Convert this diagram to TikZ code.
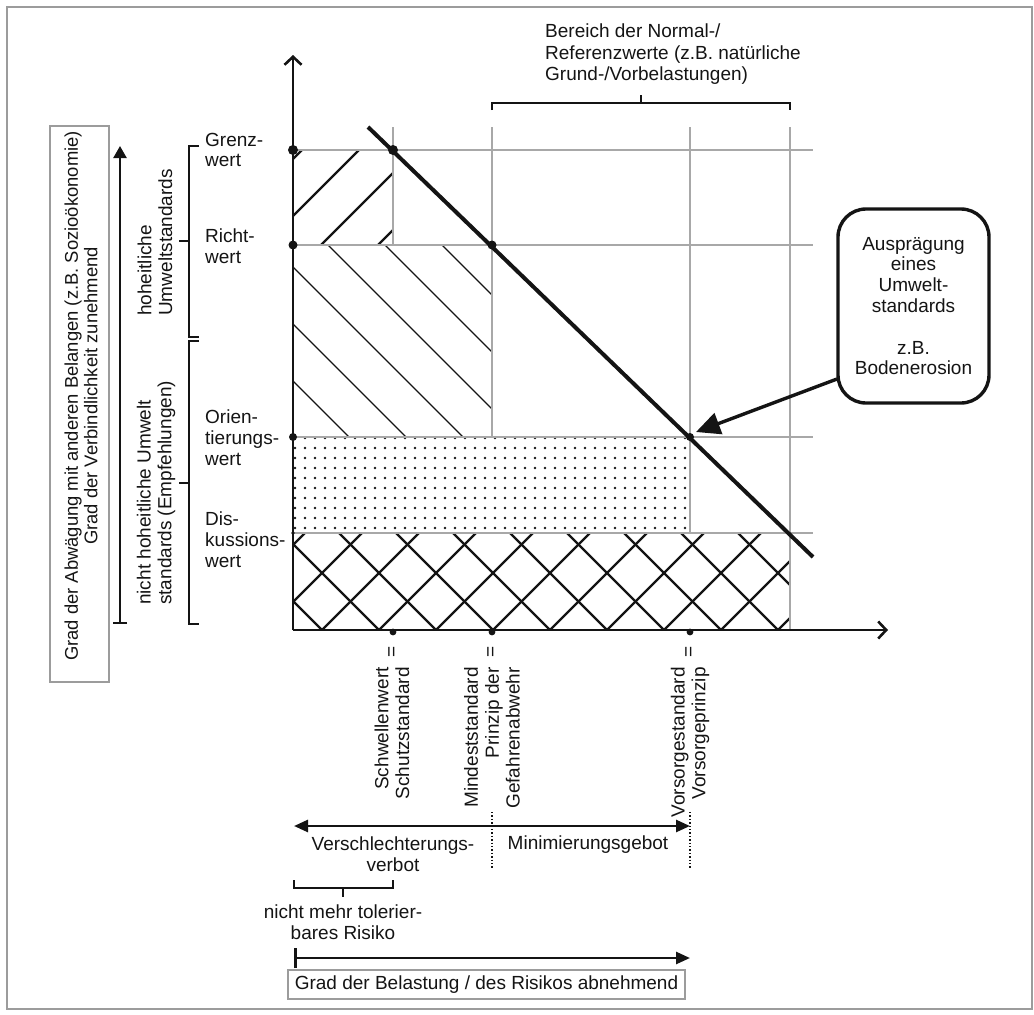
\documentclass[tikz,border=0pt]{standalone}
\usepackage{fontspec}
\setmainfont{Liberation Sans}
\usetikzlibrary{arrows.meta}
\definecolor{gridgray}{HTML}{A8A8A8}
\definecolor{framegray}{HTML}{9C9C9C}
\definecolor{ink}{HTML}{141414}

\begin{document}
\begin{tikzpicture}[x=1pt,y=-1pt,
  lbl/.style={font=\fontsize{19}{20.8}\selectfont, inner sep=0pt, text=ink},
  gridline/.style={draw=gridgray, line width=1.1pt},
  axisline/.style={draw=ink, line width=2.6pt},
  bracketline/.style={draw=ink, line width=2.4pt},
  hatchthick/.style={draw=ink, line width=2.4pt},
  hatchthin/.style={draw=ink, line width=1.1pt},
  crosshatch/.style={draw=ink, line width=2.2pt},
  graybox/.style={draw=framegray, line width=1.3pt},
  dotmark/.style={fill=ink},
]
\useasboundingbox (0,0) rectangle (1034,1015);

% outer frame
\draw[framegray, line width=1.5pt] (7,7) rectangle (1032,1009);

% key points of the diagram
\coordinate (O) at (293,630);
\coordinate (ytop) at (293,55);
\coordinate (xend) at (888,630);
\coordinate (G0) at (293,150);
\coordinate (G1) at (393,150);
\coordinate (R0) at (293,245);
\coordinate (R1) at (492,245);
\coordinate (Or0) at (293,437);
\coordinate (Or1) at (690,437);
\coordinate (D0) at (293,533);
\coordinate (lineA) at (368,127);
\coordinate (lineB) at (813,557);

% ---------- hatched areas ----------
% Grenzwert band: thick rising hatch
\begin{scope}
  \clip (293,150) rectangle (393,245);
  \foreach \c in {452,509,566,623,680}
    \draw[hatchthick] ({\c-120},120) -- ({\c-270},270);
\end{scope}
% Richtwert band: thin falling hatch
\begin{scope}
  \clip (293,245) rectangle (492,437);
  \foreach \k in {-4,...,4}
    \draw[hatchthin] ({26+57*\k+220},220) -- ({26+57*\k+460},460);
\end{scope}
% Orientierungswert band: dot raster
\foreach \i in {0,...,39}{
  \foreach \j in {0,...,9}{
    \fill[dotmark] ({295+10*\i},{438+10*\j}) circle[radius=1.45pt];
  }
}
% Diskussionswert band: cross hatch
\begin{scope}
  \clip (293,533) rectangle (790,630);
  \foreach \k in {-3,...,9}
    \draw[crosshatch] ({952+57*\k-520},520) -- ({952+57*\k-640},640);
  \foreach \m in {-1,...,10}
    \draw[crosshatch] ({-308+57*\m+520},520) -- ({-308+57*\m+640},640);
\end{scope}

% ---------- grid lines ----------
\draw[gridline] (G0) -- (813,150);
\draw[gridline] (R0) -- (813,245);
\draw[gridline] (Or0) -- (813,437);
\draw[gridline] (D0) -- (813,533);
\draw[gridline] (393,127) -- (393,245);
\draw[gridline] (492,127) -- (492,437);
\draw[gridline] (690,127) -- (690,533);
\draw[gridline] (790,127) -- (790,630);

% ---------- axes ----------
\draw[axisline, -{Straight Barb[length=8pt,width=17pt]}] (O) -- (ytop);
\draw[axisline, -{Straight Barb[length=8pt,width=17pt]}] (O) -- (xend);

% standard line
\draw[draw=ink, line width=4pt] (lineA) -- (lineB);

% marker dots
\fill[dotmark] (G0) circle[radius=5pt];
\fill[dotmark] (G1) circle[radius=5pt];
\fill[dotmark] (R0) circle[radius=4.5pt];
\fill[dotmark] (R1) circle[radius=4.5pt];
\fill[dotmark] (Or0) circle[radius=4pt];
\fill[dotmark] (Or1) circle[radius=4pt];
\fill[dotmark] (D0) circle[radius=1.8pt];
\fill[dotmark] (393,632) circle[radius=3.4pt];
\fill[dotmark] (492,632) circle[radius=3.4pt];
\fill[dotmark] (690,632) circle[radius=3.4pt];

% ---------- value labels on the y axis ----------
\node[lbl, anchor=west, align=left] (grenz) at (205,150) {Grenz-\\wert};
\node[lbl, anchor=west, align=left] (richt) at (205,246) {Richt-\\wert};
\node[lbl, anchor=west, align=left] (orient) at (205,438) {Orien-\\tierungs-\\wert};
\node[lbl, anchor=west, align=left] (diskus) at (205,540) {Dis-\\kussions-\\wert};

% brackets for the two groups of standards
\draw[bracketline] (199,146) -- (189,146) -- (189,337) -- (199,337);
\draw[bracketline] (189,241) -- (179,241);
\draw[bracketline] (199,341) -- (189,341) -- (189,624) -- (199,624);
\draw[bracketline] (189,483) -- (179,483);
\node[lbl, rotate=90, anchor=west, align=left] (hoheit) at (155,316)
  {hoheitliche\\Umweltstandards};
\node[lbl, rotate=90, anchor=west, align=left] (nichthoheit) at (156,605)
  {nicht hoheitliche Umwelt\\standards (Empfehlungen)};

% vertical scale: binding force
\draw[graybox] (50,126) rectangle (109,682);
\node[lbl, font=\fontsize{18.4}{19.5}\selectfont, rotate=90, align=center] (abwaeg) at (81,396)
  {Grad der Abwägung mit anderen Belangen (z.B. Sozioökonomie)\\Grad der Verbindlichkeit zunehmend};
\coordinate (vbot) at (120,624);
\coordinate (vtop) at (120,146);
\draw[axisline, line width=2.3pt, {Bar[width=14pt]}-{Triangle[length=12pt,width=13pt]}] (vbot) -- (vtop);

% ---------- reference range bracket ----------
\draw[bracketline] (492,110) -- (492,103) -- (790,103) -- (790,110);
\draw[bracketline] (641,103) -- (641,95);
\node[lbl, font=\fontsize{19}{21.5}\selectfont, anchor=west, align=left] (refrange) at (545,54.5)
  {Bereich der Normal-/\\Referenzwerte (z.B. natürliche\\Grund-/Vorbelastungen)};

% ---------- callout ----------
\node[lbl, draw=ink, line width=3.4pt, rounded corners=28pt, minimum width=151pt,
      minimum height=194pt, align=center] (callout) at (913.5,306)
  {Ausprägung\\eines\\Umwelt-\\standards\\[20.8pt]z.B.\\Bodenerosion};
\coordinate (calloutfoot) at (837,379);
\coordinate (callouttip) at (696,432);
\draw[draw=ink, line width=3.4pt, -{Triangle[length=24pt,width=22pt]}] (calloutfoot) -- (callouttip);

% ---------- labels on the x axis ----------
\node[lbl, rotate=90] (eqS) at (393,652) {=};
\node[lbl, rotate=90] (eqM) at (492,652) {=};
\node[lbl, rotate=90] (eqV) at (690,652) {=};
\node[lbl, rotate=90, anchor=east, align=right] (schwelle) at (392,667)
  {Schwellenwert\\Schutzstandard};
\node[lbl, rotate=90, anchor=east, align=right] (mindest) at (492,667)
  {Mindeststandard\\Prinzip der\\Gefahrenabwehr};
\node[lbl, rotate=90, anchor=east, align=right] (vorsorge) at (690,667)
  {Vorsorgestandard\\Vorsorgeprinzip};

% ---------- principles ----------
\coordinate (pl) at (294,826);
\coordinate (pr) at (690,826);
\draw[axisline, {Triangle[length=14pt,width=12pt]}-{Triangle[length=14pt,width=12pt]}] (pl) -- (pr);
\draw[draw=ink, line width=1.4pt, dotted] (492,812) -- (492,868);
\draw[draw=ink, line width=1.4pt, dotted] (690,812) -- (690,868);
\node[lbl, align=center] (verschl) at (393,854) {Verschlechterungs-\\verbot};
\node[lbl] (minim) at (588,845) {Minimierungsgebot};

% intolerable risk bracket
\draw[bracketline] (294,880) -- (294,888) -- (393,888) -- (393,880);
\draw[bracketline] (343,888) -- (343,897);
\node[lbl, align=center] (risiko) at (343,922) {nicht mehr tolerier-\\bares Risiko};

% burden axis
\coordinate (bl) at (294,958);
\coordinate (br) at (690,958);
\draw[axisline, {Bar[width=20pt]}-{Triangle[length=14pt,width=12pt]}] (bl) -- (br);
\node[lbl, graybox, minimum width=397pt, minimum height=29pt] (belast) at (486.5,984.5)
  {Grad der Belastung / des Risikos abnehmend};
\end{tikzpicture}
\end{document}
